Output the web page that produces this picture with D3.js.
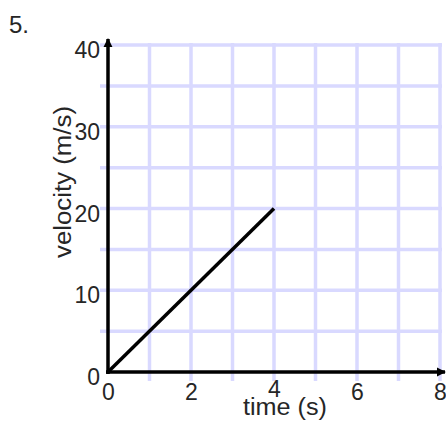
<!DOCTYPE html>
<html>
<head>
<meta charset="utf-8">
<script src="https://cdn.jsdelivr.net/npm/d3@7"></script>
<style>
  body { margin: 0; background: #fff; }
  svg { display: block; font-family: "Liberation Sans", Arial, sans-serif; }
</style>
</head>
<body>
<svg width="446" height="425"></svg>
<script>
var svg = d3.select("svg"),
    width = +svg.attr("width"),
    height = +svg.attr("height");

// data
var problemLabel = "5.";
var xTicks = [0, 2, 4, 6, 8];
var yTicks = [0, 10, 20, 30, 40];
var gridX = [1, 2, 3, 4, 5, 6, 7, 8];
var gridY = [5, 10, 15, 20, 25, 30, 35, 40];
var timeVals = [0, 4];
var velocityVals = [0, 20];
var xTitle = "time (s)";
var yTitle = "velocity (m/s)";

var x = d3.scaleLinear().domain([0, 8]).range([108, 440]);
var y = d3.scaleLinear().domain([0, 40]).range([372, 45]);

var gridColor = "#d9d9ff";
var textColor = "#262626";

// grid
svg.append("g")
    .selectAll("line")
    .data(gridX)
    .enter().append("line")
    .attr("x1", function (d) { return x(d); })
    .attr("x2", function (d) { return x(d); })
    .attr("y1", y(40) - 2)
    .attr("y2", y(0) + 9)
    .attr("stroke", gridColor)
    .attr("stroke-width", 3.5);

svg.append("g")
    .selectAll("line")
    .data(gridY)
    .enter().append("line")
    .attr("x1", x(0) - 8)
    .attr("x2", x(8) + 2)
    .attr("y1", function (d) { return y(d); })
    .attr("y2", function (d) { return y(d); })
    .attr("stroke", gridColor)
    .attr("stroke-width", 3.5);

// tick labels via axes
svg.append("g")
    .attr("transform", "translate(0," + y(0) + ")")
    .call(d3.axisBottom(x).tickValues(xTicks).tickSize(0).tickPadding(12))
    .call(function (g) { g.select(".domain").remove(); })
    .call(function (g) {
        g.selectAll("text")
            .attr("font-size", 23)
            .attr("font-family", null)
            .attr("fill", textColor)
            .attr("dy", function (d) { return d === 4 ? "0.55em" : "0.71em"; });
    });

svg.append("g")
    .attr("transform", "translate(" + x(0) + ",0)")
    .call(d3.axisLeft(y).tickValues(yTicks).tickSize(0).tickPadding(8))
    .call(function (g) { g.select(".domain").remove(); })
    .call(function (g) {
        g.selectAll("text")
            .attr("dy", "0.55em")
            .attr("font-size", 23)
            .attr("font-family", null)
            .attr("fill", textColor);
    });

// axis lines with arrows
svg.append("defs").append("marker")
    .attr("id", "arrow")
    .attr("viewBox", "0 0 10 10")
    .attr("refX", 9)
    .attr("refY", 5)
    .attr("markerWidth", 2.6)
    .attr("markerHeight", 2.6)
    .attr("markerUnits", "strokeWidth")
    .attr("orient", "auto")
    .append("path")
    .attr("d", "M0,0L10,5L0,10z")
    .attr("fill", "#000");

svg.append("line")
    .attr("x1", x(0)).attr("x2", x(0))
    .attr("y1", y(0) + 2).attr("y2", y(40) - 6)
    .attr("stroke", "#000")
    .attr("stroke-width", 3.5)
    .attr("marker-end", "url(#arrow)");

svg.append("line")
    .attr("x1", x(0) - 2).attr("x2", x(8) + 5)
    .attr("y1", y(0)).attr("y2", y(0))
    .attr("stroke", "#000")
    .attr("stroke-width", 3.5)
    .attr("marker-end", "url(#arrow)");

// data line
var line = d3.line()
    .x(function (d) { return x(d[0]); })
    .y(function (d) { return y(d[1]); });

svg.append("path")
    .datum(d3.zip(timeVals, velocityVals))
    .attr("d", line)
    .attr("fill", "none")
    .attr("stroke", "#000")
    .attr("stroke-width", 3.5);

// titles
svg.append("text")
    .attr("x", 9)
    .attr("y", 33)
    .attr("fill", textColor)
    .attr("font-size", 24)
    .text(problemLabel);

svg.append("text")
    .attr("x", 243)
    .attr("y", 415)
    .attr("fill", textColor)
    .attr("font-size", 23)
    .attr("textLength", 84)
    .attr("lengthAdjust", "spacingAndGlyphs")
    .text(xTitle);

svg.append("text")
    .attr("transform", "translate(71,258) rotate(-90)")
    .attr("fill", textColor)
    .attr("font-size", 23)
    .attr("textLength", 152)
    .attr("lengthAdjust", "spacingAndGlyphs")
    .text(yTitle);
</script>
</body>
</html>
